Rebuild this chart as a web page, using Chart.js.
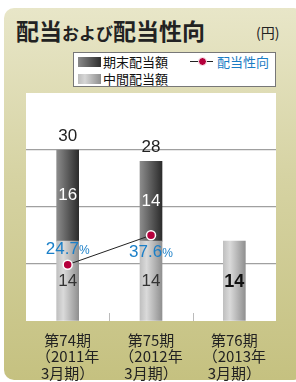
<!DOCTYPE html>
<html><head><meta charset="utf-8">
<script src="https://cdn.jsdelivr.net/npm/chart.js@4"></script>
<style>
html,body{margin:0;padding:0;width:296px;height:382px;overflow:hidden;background:#fff;font-family:"Liberation Sans","Noto Sans CJK JP",sans-serif;}
#panel{position:absolute;left:4px;top:8px;width:300px;height:372px;border-radius:10px;background:linear-gradient(#e8e6c8,#d6d3a3 45%,#c5c180);}
#title{position:absolute;left:16px;top:15px;font-family:"Noto Sans CJK JP";font-weight:bold;color:#222;font-size:23px;line-height:30px;white-space:nowrap;}
#title .s{font-size:17px;font-weight:bold;}
#unit{position:absolute;left:256px;top:22px;font-family:"Noto Sans CJK JP";font-size:14px;color:#222;}
#legend{position:absolute;left:73px;top:52px;width:201px;height:33px;background:#fff;border:1px solid #777;font-family:"Noto Sans CJK JP";font-size:13px;color:#111;}
.sw{position:absolute;width:23px;height:10px;}
.lt{position:absolute;line-height:16px;white-space:nowrap;}
canvas{position:absolute;left:0;top:0;}
</style></head><body>
<div id="panel"></div>
<div id="title">配当<span class="s">および</span>配当性向</div>
<div id="unit">(円)</div>
<div id="legend">
  <div class="sw" style="left:4px;top:4px;background:linear-gradient(90deg,#8a8a8a,#2e2e2e);"></div>
  <div class="lt" style="left:29px;top:1px;">期末配当額</div>
  <div class="sw" style="left:4px;top:21px;background:linear-gradient(90deg,#bdbdbd,#d6d6d6 30%,#8e8e8e);"></div>
  <div class="lt" style="left:29px;top:18px;">中間配当額</div>
  <div style="position:absolute;left:116px;top:8px;width:23px;height:1px;background:#222;"></div>
  <div style="position:absolute;left:124px;top:4px;width:7px;height:7px;border-radius:50%;background:#b5003c;border:0.5px solid #fff;"></div>
  <div class="lt" style="left:143px;top:1px;color:#1a7cc4;">配当性向</div>
</div>
<canvas id="c" width="296" height="382"></canvas>
<script>
const categories = [["第74期","（2011年","3月期）"],["第75期","（2012年","3月期）"],["第76期","（2013年","3月期）"]];
const interim = [14, 14, 14];
const yearEnd = [16, 14, null];
const totals = [30, 28, null];
const payoutRatio = [24.7, 37.6, null];
const yTicks = [10, 20, 30];

function barGrad(ctx, chart, idx, stops){
  const xs = chart.scales.x;
  if(!xs) return stops[0][1];
  const x = xs.getPixelForValue(idx);
  if(!isFinite(x)) return stops[0][1];
  const g = chart.ctx.createLinearGradient(x-11,0,x+11,0);
  stops.forEach(s=>g.addColorStop(s[0],s[1]));
  return g;
}
const darkStops=[[0,'#8c8c8c'],[1,'#2c2c2c']];
const lightStops=[[0,'#c0c0c0'],[0.3,'#dadada'],[1,'#909090']];

const bgPlugin={id:'bg',beforeDraw(chart){const a=chart.chartArea,c=chart.ctx;c.save();c.fillStyle='#fff';c.fillRect(a.left,a.top,a.right-a.left,a.bottom-a.top);c.restore();}};
const tickPlugin={id:'ticks',afterDraw(chart){
  const xs=chart.scales.x,a=chart.chartArea,c=chart.ctx;c.save();c.strokeStyle='#bbb';c.lineWidth=1;
  for(let i=0;i<categories.length-1;i++){const x=Math.round((xs.getPixelForValue(i)+xs.getPixelForValue(i+1))/2)+0.5;c.beginPath();c.moveTo(x,a.bottom);c.lineTo(x,a.bottom-8);c.stroke();}
  c.restore();
}};
const labelPlugin={id:'labels',afterDatasetsDraw(chart){
  const c=chart.ctx;c.save();c.textAlign='center';c.textBaseline='middle';
  const m0=chart.getDatasetMeta(0),m1=chart.getDatasetMeta(1),m2=chart.getDatasetMeta(2);
  const ff='"Liberation Sans",Arial,sans-serif';
  interim.forEach((v,i)=>{
    if(v==null)return;const el=m0.data[i];
    const bold = yearEnd[i]==null;
    c.font=(bold?'bold 18px ':'17px ')+ff;c.fillStyle=bold?'#111':'#333';
    c.fillText(String(v),el.x,(el.y+el.base)/2+1);
  });
  yearEnd.forEach((v,i)=>{
    if(v==null)return;const el=m1.data[i];
    c.font='17px '+ff;c.fillStyle='#fff';c.fillText(String(v),el.x,(el.y+el.base)/2);
    c.fillStyle='#222';c.fillText(String(totals[i]),el.x,el.y-14);
  });
  payoutRatio.forEach((v,i)=>{
    if(v==null)return;const el=m2.data[i];
    const dy = i===0?-15:17;
    const t=v.toFixed(1);c.fillStyle='#1a7fc8';
    c.font='17px '+ff;const w1=c.measureText(t).width;c.font='12px '+ff;const w2=c.measureText('%').width;
    const x0=el.x-(w1+w2)/2;c.textAlign='left';
    c.font='17px '+ff;c.fillText(t,x0,el.y+dy);
    c.font='12px '+ff;c.fillText('%',x0+w1,el.y+dy+1);
    c.textAlign='center';
  });
  c.restore();
}};

new Chart(document.getElementById('c'),{
  data:{labels:categories,datasets:[
    {type:'bar',label:'中間配当額',data:interim,stack:'s',barThickness:22,order:2,
     backgroundColor:(ctx)=>barGrad(ctx,ctx.chart,ctx.dataIndex,lightStops)},
    {type:'bar',label:'期末配当額',data:yearEnd,stack:'s',barThickness:22,order:2,
     backgroundColor:(ctx)=>barGrad(ctx,ctx.chart,ctx.dataIndex,darkStops)},
    {type:'line',label:'配当性向',data:payoutRatio,yAxisID:'y1',order:1,borderColor:'#222',borderWidth:1,
     pointRadius:4.5,pointBackgroundColor:'#b5003c',pointBorderColor:'#fff',pointBorderWidth:1.5,spanGaps:false}
  ]},
  options:{responsive:false,animation:false,devicePixelRatio:1,
    layout:{padding:{left:26,right:20,top:93,bottom:0}},
    plugins:{legend:{display:false},tooltip:{enabled:false}},
    scales:{
      x:{stacked:true,grid:{display:false},border:{display:false},
         ticks:{color:'#222',font:{family:'"Noto Sans CJK JP"',size:15,lineHeight:1.1},padding:3,maxRotation:0,autoSkip:false},
         afterFit(s){s.height=61;}},
      y:{stacked:true,min:0,max:40,ticks:{display:false,stepSize:10},border:{display:false},
         grid:{drawTicks:false,lineWidth:1.2,color:(c)=>yTicks.includes(c.tick.value)?'#a0a0a0':'rgba(0,0,0,0)'},
         afterFit(s){s.width=0;}},
      y1:{display:false,min:0,max:100}
    }
  },
  plugins:[bgPlugin,tickPlugin,labelPlugin]
});
</script>
</body></html>
